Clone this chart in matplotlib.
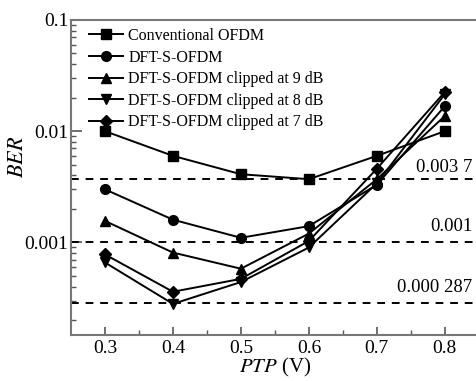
import matplotlib.pyplot as plt
import numpy as np
from matplotlib.ticker import LogLocator, NullFormatter, FixedLocator

plt.rcParams['font.family'] = ['Liberation Serif', 'DejaVu Serif']
plt.rcParams['mathtext.fontset'] = 'stix'

# PTP in volts
ptp = [0.3, 0.4, 0.5, 0.6, 0.7, 0.8]

# BER values
ber_ofdm = [0.0100, 0.0060, 0.0041, 0.0037, 0.0060, 0.0100]
ber_dft = [0.0030, 0.0016, 0.0011, 0.0014, 0.0033, 0.0168]
ber_clip9 = [0.00156, 0.00081, 0.00058, 0.0012, 0.0037, 0.0137]
ber_clip8 = [0.00066, 0.00028, 0.00044, 0.00090, 0.0034, 0.0215]
ber_clip7 = [0.00078, 0.00036, 0.00047, 0.00103, 0.0046, 0.0225]

labels = ["Conventional OFDM", "DFT-S-OFDM", "DFT-S-OFDM clipped at 9 dB",
          "DFT-S-OFDM clipped at 8 dB", "DFT-S-OFDM clipped at 7 dB"]
markers = ["s", "o", "^", "v", "D"]

ref_levels = [0.0037, 0.001, 0.000287]
ref_texts = ["0.003 7", "0.001", "0.000 287"]
ref_lift = [1.06, 1.16, 1.16]

fig = plt.figure(figsize=(4.76, 3.81), dpi=100)
ax = fig.add_axes([0.149, 0.1207, 0.857, 0.827])

series = [ber_ofdm, ber_dft, ber_clip9, ber_clip8, ber_clip7]
for y, lab, m in zip(series, labels, markers):
	ms = 6 if m == "D" else 7
	ax.plot(ptp, y, color="black", lw=1.4, marker=m, ms=ms, label=lab)

for lvl, txt, lift in zip(ref_levels, ref_texts, ref_lift):
	ax.axhline(lvl, color="black", lw=1.4, ls=(0, (4, 3.5)))
	ax.text(0.84, lvl * lift, txt, ha="right", va="bottom", fontsize=13.5)

ax.set_yscale("log")
ax.set_ylim(1.47e-4, 0.1)
ax.set_xlim(0.25, 0.85)
ax.set_yticks([0.001, 0.01, 0.1])
ax.set_yticklabels(["0.001", "0.01", "0.1"])
ax.yaxis.set_minor_locator(LogLocator(base=10, subs=np.arange(2, 10)))
ax.yaxis.set_minor_formatter(NullFormatter())
ax.set_xticks(ptp)
ax.set_xticklabels(["0.3", "0.4", "0.5", "0.6", "0.7", "0.8"])
ax.xaxis.set_minor_locator(FixedLocator([0.35, 0.45, 0.55, 0.65, 0.75]))

ax.tick_params(which="both", direction="in", labelsize=14, color="#555555")
ax.tick_params(which="major", length=6, width=1.2)
ax.tick_params(which="minor", length=3.5, width=1.0)
ax.tick_params(axis="y", which="major", length=8, pad=2)
ax.tick_params(top=False, right=False)

for s in ["left", "bottom", "top"]:
	ax.spines[s].set_color("#777777")
	ax.spines[s].set_linewidth(1.5)
ax.spines["right"].set_visible(False)

ax.set_ylabel("$BER$", fontsize=16)
ax.yaxis.set_label_coords(-0.105, 0.565)
ax.set_xlabel("$PTP$ (V)", fontsize=15, labelpad=-1)

ax.legend(loc="upper left", frameon=False, fontsize=11.5, handlelength=2.15,
          labelspacing=0.35, borderaxespad=0.1, handletextpad=0.3,
          bbox_to_anchor=(0.025, 1.0))

fig.savefig("out.png", dpi=100)
